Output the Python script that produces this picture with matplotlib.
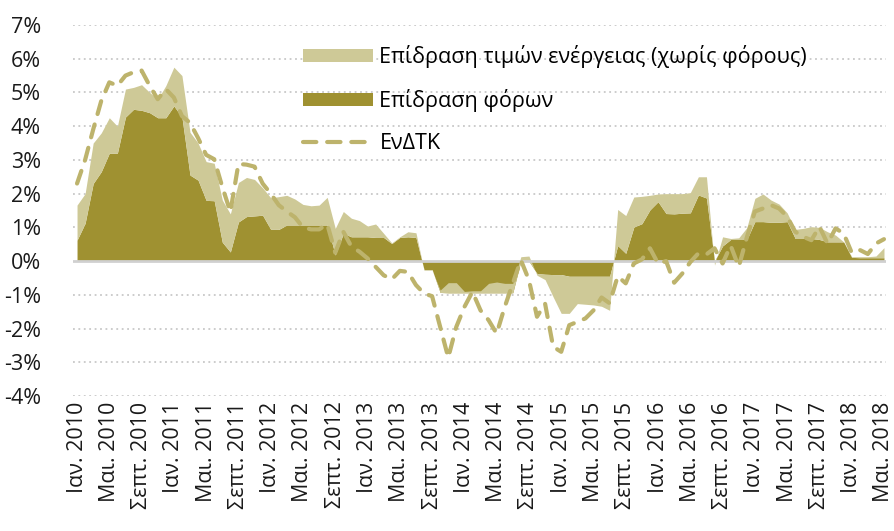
import matplotlib
matplotlib.use("Agg")
import matplotlib.pyplot as plt
from matplotlib.patches import Patch
from matplotlib.lines import Line2D
import numpy as np

plt.rcParams['font.family'] = ['Open Sans', 'DejaVu Sans']

# Monthly data, Jan 2010 .. May 2018 (percentage points)
tax_effect = [
    0.62, 1.12, 2.30, 2.65, 3.20, 3.20, 4.27, 4.50, 4.47, 4.40, 4.25, 4.25,
    4.60, 4.27, 2.55, 2.40, 1.80, 1.79, 0.56, 0.27, 1.16, 1.32, 1.34, 1.36,
    0.94, 0.94, 1.07, 1.07, 1.07, 1.07, 1.07, 1.07, 0.18, 0.82, 0.72, 0.72,
    0.72, 0.70, 0.70, 0.52, 0.70, 0.72, 0.70, -0.25, -0.25, -0.93, -0.94, -0.94,
    -0.94, -0.94, -0.94, -0.94, -0.94, -0.94, -0.94, 0.00, 0.00, -0.37, -0.39, -0.40,
    -0.40, -0.45, -0.45, -0.45, -0.45, -0.45, -0.45, 0.46, 0.23, 1.01, 1.11, 1.52,
    1.76, 1.41, 1.40, 1.42, 1.43, 1.96, 1.87, 0.00, 0.45, 0.64, 0.64, 0.64,
    1.17, 1.17, 1.15, 1.15, 1.17, 0.67, 0.67, 0.67, 0.64, 0.57, 0.57, 0.57,
    0.11, 0.10, 0.10, 0.10, 0.10,
]
energy_effect = [
    1.04, 0.88, 1.20, 1.15, 1.05, 0.80, 0.83, 0.65, 0.76, 0.60, 0.55, 0.95,
    1.15, 1.23, 1.27, 1.10, 1.15, 1.11, 1.25, 1.13, 1.17, 1.16, 1.08, 0.81,
    0.94, 0.97, 0.88, 0.77, 0.61, 0.57, 0.59, 0.82, 0.79, 0.65, 0.55, 0.48,
    0.32, 0.40, 0.12, 0.02, 0.02, 0.15, 0.14, -0.02, -0.02, 0.07, 0.30, 0.30,
    0.04, 0.06, 0.06, 0.28, 0.32, 0.28, 0.28, 0.13, 0.15, -0.05, -0.16, -0.66,
    -1.15, -1.10, -0.81, -0.83, -0.85, -0.89, -1.01, 1.07, 1.12, 0.89, 0.81, 0.43,
    0.23, 0.59, 0.60, 0.58, 0.60, 0.54, 0.63, -0.12, 0.27, 0.03, 0.05, 0.35,
    0.69, 0.82, 0.66, 0.54, 0.26, 0.27, 0.30, 0.35, 0.36, 0.30, 0.20, 0.00,
    0.02, 0.03, 0.03, 0.05, 0.30,
]
hicp = [
    2.30, 3.00, 3.90, 4.75, 5.30, 5.20, 5.50, 5.60, 5.65, 5.20, 4.80, 5.10,
    4.85, 4.30, 4.10, 3.65, 3.15, 3.02, 2.20, 1.46, 2.88, 2.86, 2.80, 2.30,
    2.00, 1.66, 1.47, 1.30, 1.00, 0.94, 0.94, 1.10, 0.25, 0.87, 0.43, 0.28,
    0.08, -0.17, -0.42, -0.54, -0.29, -0.32, -0.71, -0.96, -1.04, -1.95, -2.86, -1.95,
    -1.36, -0.91, -1.46, -1.75, -2.15, -1.36, -0.66, 0.03, -0.56, -1.65, -1.26, -2.54,
    -2.69, -1.90, -1.80, -1.70, -1.46, -1.08, -1.25, -0.45, -0.66, -0.07, 0.05, 0.38,
    -0.07, 0.00, -0.64, -0.37, -0.03, 0.23, 0.20, 0.38, -0.07, 0.46, -0.17, 0.70,
    1.47, 1.56, 1.66, 1.56, 1.32, 0.87, 0.72, 0.62, 1.02, 0.52, 0.97, 0.82,
    0.25, 0.33, 0.21, 0.52, 0.65,
]
tick_labels = [
    "Ιαν. 2010", "Μαι. 2010", "Σεπτ. 2010", "Ιαν. 2011", "Μαι. 2011", "Σεπτ. 2011",
    "Ιαν. 2012", "Μαι. 2012", "Σεπτ. 2012", "Ιαν. 2013", "Μαι. 2013", "Σεπτ. 2013",
    "Ιαν. 2014", "Μαι. 2014", "Σεπτ. 2014", "Ιαν. 2015", "Μαι. 2015", "Σεπτ. 2015",
    "Ιαν. 2016", "Μαι. 2016", "Σεπτ. 2016", "Ιαν. 2017", "Μαι. 2017", "Σεπτ. 2017",
    "Ιαν. 2018", "Μαι. 2018",
]
y_ticks = [-4, -3, -2, -1, 0, 1, 2, 3, 4, 5, 6, 7]

label_energy = "Επίδραση τιμών ενέργειας (χωρίς φόρους)"
label_tax = "Επίδραση φόρων"
label_hicp = "ΕνΔΤΚ"

c_light = "#CEC997"
c_dark = "#9F9131"
c_line = "#BDB36C"
c_grid = "#C8C8C8"
FS = 15.5

x = np.arange(len(tax_effect))
tax = np.array(tax_effect)
total = tax + np.array(energy_effect)

fig = plt.figure(figsize=(8.94, 5.31), dpi=100)
ax = fig.add_axes([73 / 894, 1 - 396 / 531, (886 - 73) / 894, (396 - 25) / 531])

for v in y_ticks:
    if v != 0:
        ax.axhline(v, color=c_grid, lw=1.3, ls=(0, (1, 2)), zorder=0)

ax.fill_between(x, 0, tax, color=c_dark, lw=0, zorder=1)
ax.fill_between(x, tax, total, color=c_light, lw=0, zorder=2)
ax.axhline(0, color="#D0D0D0", lw=2, zorder=3)
ax.plot(x, hicp, color=c_line, lw=3.0, dashes=(3.2, 2.6), dash_capstyle="round", zorder=4)

ax.set_xlim(-0.5, 100.25)
ax.set_ylim(-4, 7)
ax.set_yticks(y_ticks)
ax.set_yticklabels([f"{v}%" for v in y_ticks])
ax.set_xticks(x[::4])
ax.set_xticklabels(tick_labels, rotation=90)
ax.tick_params(axis="both", length=0, labelsize=FS, colors="#1a1a1a")
ax.tick_params(axis="y", pad=23)
ax.tick_params(axis="x", pad=4)
for s in ax.spines.values():
    s.set_visible(False)

handles = [
    Patch(facecolor=c_light, edgecolor="none"),
    Patch(facecolor=c_dark, edgecolor="none"),
    Line2D([0], [0], color=c_line, lw=3.0, dashes=(3.2, 2.6), dash_capstyle="round"),
]
fig.legend(handles, [label_energy, label_tax, label_hicp],
           loc="upper left", bbox_to_anchor=(303 / 894, 1 - 45 / 531),
           frameon=False, fontsize=FS, handlelength=3.25, handleheight=0.6,
           handletextpad=0.3, labelspacing=0.98, borderpad=0, borderaxespad=0)

fig.savefig("out.png", dpi=100)
